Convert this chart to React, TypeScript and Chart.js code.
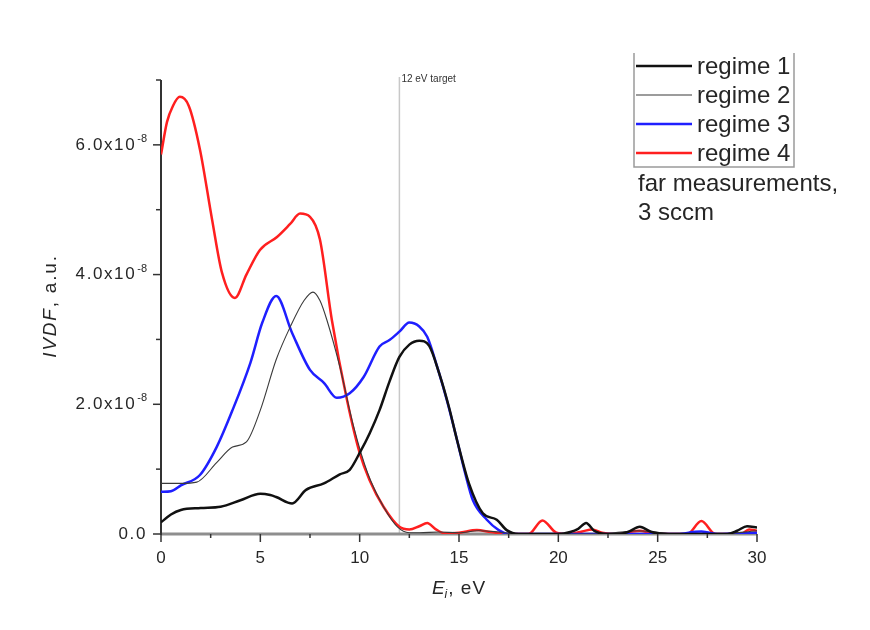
import React, { useEffect, useRef } from "react";
import { Chart, registerables } from "chart.js";

Chart.register(...registerables);

const FONT = "'Liberation Sans', Arial, sans-serif";

// ---- data (IVDF in units of 1e-8 a.u.) ----
const regime1E = [0, 0.5, 1, 2, 3, 4, 5, 5.5, 5.8, 6.6, 7.3, 8.2, 9, 9.5, 10, 10.5, 11, 11.5, 12, 12.5, 13, 13.5, 14, 14.5, 14.9, 15.5, 16.2, 16.9, 17.4, 18, 19, 20, 20.6, 21, 21.4, 21.8, 22.5, 23, 23.5, 24.1, 24.7, 25.5, 27, 28.5, 29, 29.5, 30];
const regime1V = [0.18, 0.3, 0.37, 0.4, 0.42, 0.52, 0.62, 0.6, 0.57, 0.47, 0.68, 0.78, 0.92, 0.99, 1.25, 1.55, 1.91, 2.35, 2.73, 2.92, 2.98, 2.9, 2.48, 1.95, 1.45, 0.78, 0.32, 0.22, 0.06, 0, 0, 0, 0.03, 0.08, 0.17, 0.05, 0, 0, 0.03, 0.11, 0.03, 0, 0, 0, 0.05, 0.12, 0.1];

const regime2E = [0, 1, 1.8, 2.8, 3.6, 4.3, 5.0, 5.8, 6.5, 7.2, 7.65, 8.0, 8.35, 9.0, 9.7, 10.4, 11.2, 11.9, 12.5, 13, 14, 15, 16, 17, 18, 20, 22, 24, 26, 28, 30];
const regime2V = [0.78, 0.78, 0.8, 1.1, 1.34, 1.42, 1.91, 2.69, 3.19, 3.6, 3.73, 3.6, 3.3, 2.58, 1.65, 0.94, 0.42, 0.11, 0.02, 0.02, 0.03, 0.02, 0.05, 0.03, 0, 0, 0, 0.05, 0, 0, 0.05];

const regime3E = [0, 0.5, 1, 1.96, 2.8, 3.6, 4.5, 5.1, 5.8, 6.6, 7.5, 8.2, 8.85, 9.5, 10.2, 11, 11.5, 12, 12.5, 13, 13.4, 13.9, 14.4, 14.9, 15.3, 15.7, 16.4, 17, 17.5, 18, 20, 22, 24, 26, 26.8, 27.2, 27.6, 28, 30];
const regime3V = [0.65, 0.66, 0.75, 0.91, 1.34, 1.91, 2.64, 3.26, 3.67, 3.1, 2.53, 2.33, 2.1, 2.17, 2.42, 2.89, 2.99, 3.12, 3.26, 3.2, 3.04, 2.58, 2.05, 1.45, 0.95, 0.52, 0.22, 0.06, 0, 0, 0, 0, 0, 0, 0.03, 0.04, 0.02, 0, 0.02];

const regime4E = [0, 0.3, 0.6, 0.95, 1.4, 1.96, 2.57, 3.07, 3.72, 4.3, 4.98, 5.84, 6.5, 7.0, 7.5, 8.0, 8.6, 9.36, 10.0, 10.5, 11.2, 12.0, 12.5, 13.0, 13.4, 13.8, 14.3, 15, 15.9, 16.6, 17.5, 18.5, 19.2, 19.9, 20.5, 21.2, 21.7, 22.2, 23, 23.6, 24.1, 24.6, 25.5, 26.5, 27.2, 27.9, 28.5, 29.2, 29.6, 30];
const regime4V = [5.85, 6.35, 6.6, 6.74, 6.6, 5.93, 4.85, 4.03, 3.64, 4.0, 4.38, 4.58, 4.78, 4.94, 4.89, 4.54, 3.3, 2.07, 1.25, 0.83, 0.42, 0.11, 0.07, 0.12, 0.17, 0.08, 0.01, 0.02, 0.06, 0.03, 0, 0, 0.21, 0.02, 0, 0.04, 0.07, 0.02, 0, 0.03, 0.05, 0.02, 0, 0, 0.2, 0, 0, 0, 0.07, 0.05];

const seriesLabels = ["regime 1", "regime 2", "regime 3", "regime 4"];
const seriesColors = ["#111111", "#3a3a3a", "#1f1fff", "#ff1f1f"];
const seriesWidths = [2.5, 1.1, 2.5, 2.5];

const yTickValues = [0, 2, 4, 6];
const yTickMantissa = ["0.0", "2.0x10", "4.0x10", "6.0x10"];
const yTickExponent = ["", "-8", "-8", "-8"];

const targetEnergy = 12;
const targetLabel = "12 eV target";
const noteLines = ["far measurements,", "3 sccm"];

function pairs(e: number[], v: number[]) {
  return e.map((xv, i) => ({ x: xv, y: v[i] }));
}

const overlay = {
  id: "overlay",
  beforeDatasetsDraw(chart: any) {
    const { ctx, chartArea: a, scales } = chart;
    const x = scales.x;
    const y = scales.y;
    ctx.save();
    // target line
    const tx = x.getPixelForValue(targetEnergy);
    ctx.strokeStyle = "#c8c8c8";
    ctx.lineWidth = 1.5;
    ctx.beginPath();
    ctx.moveTo(tx, a.top - 3);
    ctx.lineTo(tx, a.bottom);
    ctx.stroke();

    // x axis line
    ctx.strokeStyle = "#8e8e8e";
    ctx.lineWidth = 3;
    ctx.beginPath();
    ctx.moveTo(a.left, a.bottom);
    ctx.lineTo(a.right, a.bottom);
    ctx.stroke();
    // x ticks
    ctx.strokeStyle = "#333";
    ctx.lineWidth = 1.5;
    x.ticks.forEach((t: any) => {
      const px = x.getPixelForValue(t.value);
      const major = Math.abs(t.value % 5) < 1e-6;
      ctx.beginPath();
      ctx.moveTo(px, a.bottom);
      ctx.lineTo(px, a.bottom + (major ? 8 : 4));
      ctx.stroke();
    });
    // y axis line
    ctx.strokeStyle = "#333";
    ctx.lineWidth = 2;
    ctx.beginPath();
    ctx.moveTo(a.left, a.top);
    ctx.lineTo(a.left, a.bottom + 1);
    ctx.stroke();
    ctx.lineWidth = 1.5;
    y.ticks.forEach((t: any) => {
      const py = y.getPixelForValue(t.value);
      const major = Math.abs(t.value % 2) < 1e-6;
      ctx.beginPath();
      ctx.moveTo(a.left, py);
      ctx.lineTo(a.left - (major ? 8 : 5), py);
      ctx.stroke();
    });
    ctx.restore();
  },
  afterDraw(chart: any) {
    const { ctx, chartArea: a, scales } = chart;
    const x = scales.x;
    const y = scales.y;
    ctx.save();
    ctx.fillStyle = "#262626";
    // y tick labels
    yTickValues.forEach((v, i) => {
      const py = y.getPixelForValue(v);
      const right = a.left - 14;
      ctx.textBaseline = "middle";
      ctx.textAlign = "right";
      let r = right;
      if (yTickExponent[i]) {
        ctx.font = `11px ${FONT}`;
        ctx.fillText(yTickExponent[i], r, py - 6);
        r -= ctx.measureText(yTickExponent[i]).width + 1;
      }
      ctx.font = `17px ${FONT}`;
      (ctx as any).letterSpacing = "1.6px";
      ctx.fillText(yTickMantissa[i], r, py);
      (ctx as any).letterSpacing = "0px";
    });

    // target label
    const tx = x.getPixelForValue(targetEnergy);
    ctx.font = `10px ${FONT}`;
    ctx.textAlign = "left";
    ctx.textBaseline = "middle";
    ctx.fillStyle = "#333";
    ctx.fillText(targetLabel, tx + 2, a.top - 1);

    // y title
    ctx.fillStyle = "#262626";
    ctx.save();
    ctx.translate(56, 306);
    ctx.rotate(-Math.PI / 2);
    ctx.textBaseline = "alphabetic";
    ctx.textAlign = "left";
    (ctx as any).letterSpacing = "1.8px";
    ctx.font = `italic 19px ${FONT}`;
    const w1 = ctx.measureText("IVDF").width;
    ctx.font = `19px ${FONT}`;
    const w2 = ctx.measureText(", a.u.").width;
    const sx = -(w1 + w2) / 2;
    ctx.font = `italic 19px ${FONT}`;
    ctx.fillText("IVDF", sx, 0);
    ctx.font = `19px ${FONT}`;
    ctx.fillText(", a.u.", sx + w1, 0);
    (ctx as any).letterSpacing = "0px";
    ctx.restore();

    // x title
    ctx.textBaseline = "alphabetic";
    ctx.textAlign = "left";
    ctx.font = `italic 19px ${FONT}`;
    const e1 = ctx.measureText("E").width;
    ctx.font = `italic 12px ${FONT}`;
    const e2 = ctx.measureText("i").width;
    ctx.font = `19px ${FONT}`;
    (ctx as any).letterSpacing = "1px";
    const e3 = ctx.measureText(", eV").width;
    (ctx as any).letterSpacing = "0px";
    const cx = 459;
    const xs = cx - (e1 + e2 + 1 + e3) / 2;
    const base = 594;
    ctx.font = `italic 19px ${FONT}`;
    ctx.fillText("E", xs, base);
    ctx.font = `italic 12px ${FONT}`;
    ctx.fillText("i", xs + e1, base + 4);
    ctx.font = `19px ${FONT}`;
    (ctx as any).letterSpacing = "1px";
    ctx.fillText(", eV", xs + e1 + e2 + 1, base);
    (ctx as any).letterSpacing = "0px";

    // legend box
    const bl = 634, br = 794, bt = 53, bb = 167;
    ctx.strokeStyle = "#9a9a9a";
    ctx.lineWidth = 1.5;
    ctx.beginPath();
    ctx.moveTo(bl, bt);
    ctx.lineTo(bl, bb);
    ctx.lineTo(br, bb);
    ctx.lineTo(br, bt);
    ctx.stroke();
    const rowY = [66, 95, 124, 153];
    seriesLabels.forEach((lab, i) => {
      ctx.strokeStyle = seriesColors[i];
      ctx.lineWidth = seriesWidths[i];
      ctx.beginPath();
      ctx.moveTo(636, rowY[i]);
      ctx.lineTo(692, rowY[i]);
      ctx.stroke();
      ctx.fillStyle = "#262626";
      ctx.font = `24px ${FONT}`;
      ctx.textBaseline = "middle";
      ctx.fillText(lab, 697, rowY[i] + 1);
    });
    ctx.font = `24px ${FONT}`;
    ctx.fillText(noteLines[0], 638, 184);
    ctx.fillText(noteLines[1], 638, 213);
    ctx.restore();
  },
};

export default function App() {
  const ref = useRef<HTMLCanvasElement | null>(null);
  useEffect(() => {
    if (!ref.current) return;
    const energies = [regime1E, regime2E, regime3E, regime4E];
    const values = [regime1V, regime2V, regime3V, regime4V];
    const chart = new Chart(ref.current, {
      type: "line",
      data: {
        datasets: seriesLabels.map((lab, i) => ({
          label: lab,
          data: pairs(energies[i], values[i]),
          borderColor: seriesColors[i],
          borderWidth: seriesWidths[i],
          pointRadius: 0,
          fill: false,
          cubicInterpolationMode: "monotone" as const,
        })),
      },
      options: {
        animation: false,
        responsive: true,
        maintainAspectRatio: false,
        layout: { padding: { left: 0, top: 80, right: 113, bottom: 0 } },
        plugins: { legend: { display: false }, tooltip: { enabled: false } },
        scales: {
          x: {
            type: "linear",
            min: 0,
            max: 30,
            grid: { display: false, drawTicks: false },
            border: { display: false },
            ticks: {
              stepSize: 2.5,
              autoSkip: false,
              maxRotation: 0,
              padding: 14,
              color: "#262626",
              font: { family: FONT, size: 17 },
              callback: (v: any) => (Math.abs(Number(v) % 5) < 1e-6 ? String(v) : ""),
            },
            afterFit: (s: any) => {
              s.height = 96;
            },
          },
          y: {
            type: "linear",
            min: 0,
            max: 7,
            grid: { display: false, drawTicks: false },
            border: { display: false },
            ticks: { stepSize: 1, display: false },
            afterFit: (s: any) => {
              s.width = 161;
            },
          },
        },
      },
      plugins: [overlay],
    });
    return () => chart.destroy();
  }, []);
  return (
    <div style={{ position: "fixed", left: 0, top: 0, width: 870, height: 630, background: "#fff" }}>
      <canvas ref={ref} />
    </div>
  );
}
